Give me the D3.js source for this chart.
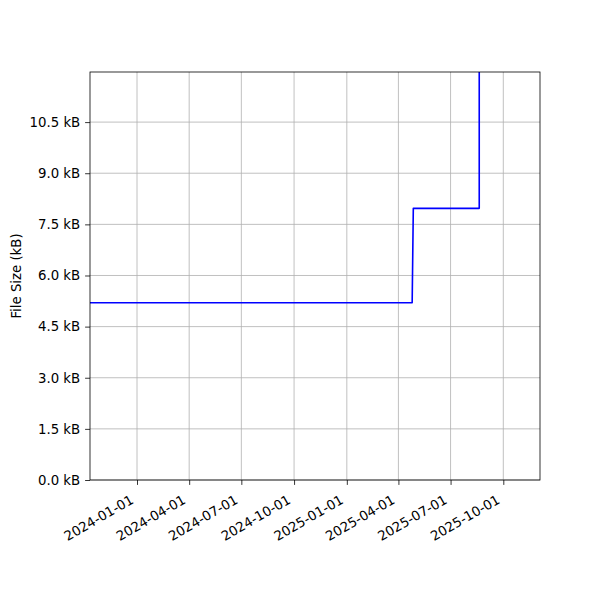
<!DOCTYPE html>
<html><head><meta charset="utf-8">
<script src="https://cdn.jsdelivr.net/npm/d3@7"></script>
<style>body{margin:0;background:#fff;} text{font-family:"DejaVu Sans",sans-serif;}</style>
</head><body><svg id="c" width="600" height="600"></svg>
<script>
const dates = ["2023-10-11","2025-04-25","2025-04-27","2025-08-20","2025-08-20","2025-12-05"];
const sizes = [5.2, 5.2, 7.97, 7.97, 14.0, 14.0];
const yTicks = [0, 1.5, 3.0, 4.5, 6.0, 7.5, 9.0, 10.5];
const xTickLabels = ["2024-01-01","2024-04-01","2024-07-01","2024-10-01","2025-01-01","2025-04-01","2025-07-01","2025-10-01"];
const xDomain = ["2023-10-11","2025-12-04"];
const yDomain = [0, 11.97];
const yLabel = "File Size (kB)";

const parse = d3.utcParse("%Y-%m-%d");
const m = {l:90, t:72, w:450, h:408};
const svg = d3.select("#c");
const x = d3.scaleUtc().domain(xDomain.map(parse)).range([m.l, m.l+m.w]);
const y = d3.scaleLinear().domain(yDomain).range([m.t+m.h, m.t]);
const fs = 13.3;

svg.append("defs").append("clipPath").attr("id","clip").append("rect")
  .attr("x",m.l).attr("y",m.t).attr("width",m.w).attr("height",m.h);

// grid
const xt = xTickLabels.map(parse);
svg.append("g").selectAll("line").data(xt).join("line")
  .attr("x1",d=>x(d)).attr("x2",d=>x(d)).attr("y1",m.t).attr("y2",m.t+m.h)
  .attr("stroke","#b0b0b0").attr("stroke-width",0.8);
svg.append("g").selectAll("line").data(yTicks).join("line")
  .attr("x1",m.l).attr("x2",m.l+m.w).attr("y1",d=>y(d)).attr("y2",d=>y(d))
  .attr("stroke","#b0b0b0").attr("stroke-width",0.8);

// line
const pts = dates.map((d,i)=>[parse(d), sizes[i]]);
svg.append("path").datum(pts).attr("clip-path","url(#clip)")
  .attr("fill","none").attr("stroke","#0000ff").attr("stroke-width",1.6)
  .attr("stroke-linejoin","round")
  .attr("d", d3.line().x(d=>x(d[0])).y(d=>y(d[1])));

// axes
const xAxis = svg.append("g").attr("transform",`translate(0,${m.t+m.h})`)
  .call(d3.axisBottom(x).tickValues(xt).tickSize(4.9).tickPadding(0).tickFormat(d3.utcFormat("%Y-%m-%d")));
xAxis.select(".domain").remove();
xAxis.selectAll("line").attr("stroke","#000").attr("stroke-width",0.8);
xAxis.selectAll("text").attr("font-size",fs).attr("fill","#000")
  .attr("text-anchor","end").attr("dy",null).attr("y",null)
  .attr("dominant-baseline","auto")
  .attr("transform","translate(-3,22.5) rotate(-30)");

const yAxis = svg.append("g").attr("transform",`translate(${m.l},0)`)
  .call(d3.axisLeft(y).tickValues(yTicks).tickSize(4.9).tickPadding(4.9).tickFormat(d=>d3.format(".1f")(d)+" kB"));
yAxis.select(".domain").remove();
yAxis.selectAll("line").attr("stroke","#000").attr("stroke-width",0.8);
yAxis.selectAll("text").attr("font-size",fs).attr("fill","#000");

svg.append("rect").attr("x",m.l).attr("y",m.t).attr("width",m.w).attr("height",m.h)
  .attr("fill","none").attr("stroke","#000").attr("stroke-width",0.8);

svg.append("text").attr("transform",`translate(20.5,${m.t+m.h/2}) rotate(-90)`)
  .attr("text-anchor","middle").attr("font-size",fs).text(yLabel);
</script></body></html>
